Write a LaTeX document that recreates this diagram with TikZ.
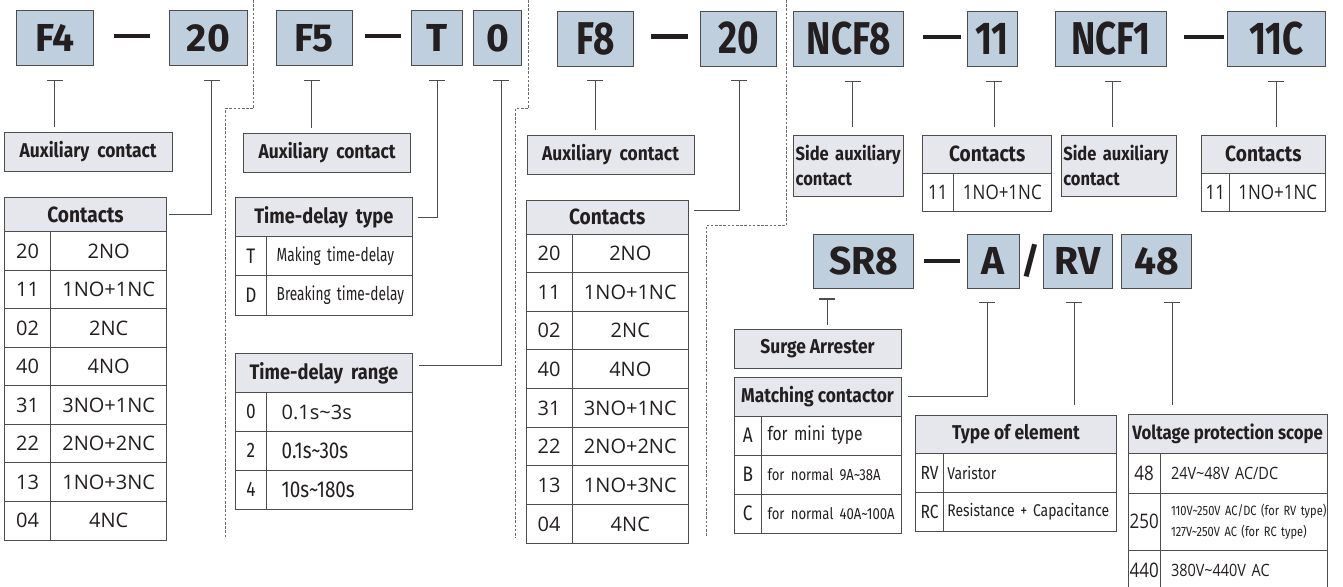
\documentclass[tikz,border=0pt]{standalone}
\usepackage{fontspec}
\setmainfont{Open Sans}
\newfontfamily\codefont{Fira Sans}
\newfontfamily\narrowcodefont[FakeStretch=0.8]{Fira Sans}
\newfontfamily\headfont[FakeStretch=0.87]{Fira Sans}
\newfontfamily\condfont[FakeStretch=0.82]{Fira Sans}
\newfontfamily\slimfont[FakeStretch=0.72]{Fira Sans}
\newfontfamily\narrowfont[FakeStretch=0.85]{Open Sans}
\usepackage{tikz}
\usetikzlibrary{positioning,arrows.meta}
\definecolor{code-blue}{RGB}{192,207,222}
\definecolor{head-gray}{RGB}{230,231,236}
\definecolor{rule-gray}{RGB}{77,77,77}
\definecolor{ink}{RGB}{35,31,32}

\begin{document}
\begin{tikzpicture}[x=1pt, y=-1pt,
		codebox/.style={draw=rule-gray, fill=code-blue, line width=0.8pt, minimum height=55, inner sep=0pt, outer sep=0pt, text=ink, font=\codefont\bfseries\fontsize{39}{40}\selectfont},
		narrowcode/.style={codebox, font=\narrowcodefont\bfseries\fontsize{46}{47}\selectfont},
		sep/.style={draw=ink, line width=4.5pt},
		lead/.style={draw=rule-gray, line width=1pt, arrows={Bar[width=16pt,line width=1.3pt]-}},
		divider/.style={draw=gray!85!black, line width=0.9pt, dash pattern=on 2.6pt off 1.6pt},
		descbox/.style={draw=rule-gray, fill=head-gray, line width=1pt, inner sep=0pt, outer sep=0pt, text=ink, font=\headfont\bfseries\fontsize{20}{25}\selectfont},
		headcell/.style={descbox},
		cell/.style={draw=rule-gray, fill=white, line width=1pt, inner sep=0pt, outer sep=0pt, text=ink},
		widecell/.style={cell, font=\fontsize{20}{24}\selectfont},
		narrowcell/.style={cell, font=\narrowfont\fontsize{20}{24}\selectfont},
		condcell/.style={cell, font=\condfont\fontsize{21}{24}\selectfont},
		leftcell/.style={condcell, align=left, inner xsep=10pt}]
		
		\useasboundingbox (0,0) rectangle (1343,586);
		
		% Draw the code boxes of the first row
		\node[codebox, minimum width=76.5] (f4) at (54.75,38) {F4};
		\node[codebox, minimum width=77.1] (f20a) at (208.35,38) {20};
		\node[codebox, minimum width=75.5] (f5) at (314.25,38) {F5};
		\node[codebox, minimum width=51] (ft) at (437,38) {T};
		\node[codebox, minimum width=48.2] (f0) at (497.6,38) {0};
		\node[narrowcode, minimum width=76.4] (f8) at (595.2,38.5) {F8};
		\node[narrowcode, minimum width=76] (f20b) at (738.7,38.5) {20};
		\node[narrowcode, minimum width=110.2] (ncf8) at (848.7,39) {NCF8};
		\node[narrowcode, minimum width=49.4] (c11) at (992.3,39) {11};
		\node[narrowcode, minimum width=111.5] (ncf1) at (1110.75,39) {NCF1};
		\node[narrowcode, minimum width=97.9] (c11c) at (1276.75,39) {11C};
		
		% Draw the code boxes of the surge arrester
		\node[codebox, minimum width=100, minimum height=54] (sr8) at (863.7,261) {SR8};
		\node[codebox, minimum width=51.3, minimum height=54] (ca) at (993.35,261) {A};
		\node[codebox, minimum width=69.3, minimum height=54] (crv) at (1077.65,261) {RV};
		\node[codebox, minimum width=69.3, minimum height=54] (c48) at (1156.35,261) {48};
		\node[text=ink, font=\codefont\bfseries\fontsize{36}{36}\selectfont] (slash) at (1031,261) {/};
		
		% Dashes between the codes
		\draw[sep, shorten <=20.6pt, shorten >=20pt] ([yshift=2pt]f4.east) -- ([yshift=2pt]f20a.west);
		\draw[sep, shorten <=13pt, shorten >=10.5pt] ([yshift=2pt]f5.east) -- ([yshift=2pt]ft.west);
		\draw[sep, shorten <=17.6pt, shorten >=12.7pt] ([yshift=2pt]f8.east) -- ([yshift=2pt]f20b.west);
		\draw[sep, shorten <=18.9pt, shorten >=6.6pt] ([yshift=2pt]ncf8.east) -- ([yshift=2pt]c11.west);
		\draw[sep, shorten <=17.5pt, shorten >=4.2pt] ([yshift=2pt]ncf1.east) -- ([yshift=2pt]c11c.west);
		\draw[sep, shorten <=9.8pt, shorten >=7.7pt] (sr8.east) -- (ca.west);
		
		% Draw the single description boxes
		\node[descbox, minimum width=167.7, minimum height=39.4, anchor=north west] (aux1) at (4.3,132.3) {Auxiliary\hspace{8pt}contact};
		\node[descbox, minimum width=167.3, minimum height=39.4, anchor=north west] (aux2) at (243.5,133.3) {Auxiliary\hspace{8pt}contact};
		\node[descbox, minimum width=167, minimum height=39, anchor=north west] (aux3) at (527,135) {Auxiliary\hspace{8pt}contact};
		\node[descbox, font=\headfont\bfseries\fontsize{19}{25}\selectfont, minimum width=110.2, minimum height=61.7, anchor=north west, align=left, text width=106] (side1) at (793.6,135) {Side auxiliary\\contact};
		\node[descbox, font=\headfont\bfseries\fontsize{19}{25}\selectfont, minimum width=115.7, minimum height=61.7, anchor=north west, align=left, text width=111] (side2) at (1061,135) {Side auxiliary\\contact};
		\node[descbox, minimum width=167, minimum height=39, anchor=north west] (surge) at (734,329.3) {Surge Arrester};
		
		% Draw the contacts table of F4
		\node[headcell, font=\headfont\bfseries\fontsize{22}{25}\selectfont, minimum width=162.4, minimum height=34.4, anchor=north west] (cah) at (4.3,197.3) {Contacts};
		\foreach \k/\v [count=\i] in {20/2NO, 11/1NO+1NC, 02/2NC, 40/4NO, 31/3NO+1NC, 22/2NO+2NC, 13/1NO+3NC, 04/4NC} {
			\node[widecell, minimum width=46.4, minimum height=38.54, anchor=north west, yshift={-(\i-1)*38.54}] (cak\i) at (cah.south west) {\k};
			\node[widecell, minimum width=116, minimum height=38.54, right=0pt of cak\i] (cav\i) {\v};
		}
		
		% Draw the time-delay tables of F5
		\node[headcell, font=\headfont\bfseries\fontsize{21}{25}\selectfont, minimum width=177.7, minimum height=39.4, anchor=north west] (tth) at (235,197.3) {Time-delay\hspace{8pt}type};
		\foreach \k/\v [count=\i] in {T/Making time-delay, D/Breaking time-delay} {
			\node[condcell, minimum width=31.7, minimum height=39.15, anchor=north west, yshift={-(\i-1)*39.15}] (ttk\i) at (tth.south west) {\k};
			\node[leftcell, font=\slimfont\fontsize{19}{22}\selectfont, text width=126, minimum height=39.15, right=0pt of ttk\i] (ttv\i) {\mbox{\v}};
		}
		\node[headcell, font=\headfont\bfseries\fontsize{21}{25}\selectfont, minimum width=177.7, minimum height=39.2, anchor=north west] (trh) at (235,353.3) {Time-delay\hspace{8pt}range};
		\foreach \k/\v [count=\i] in {0/{\rmfamily\fontsize{20}{24}\selectfont 0.1s\textasciitilde 3s}, 2/0.1s\textasciitilde 30s, 4/10s\textasciitilde 180s} {
			\node[condcell, minimum width=31.7, minimum height=38.9, anchor=north west, yshift={-(\i-1)*38.9}] (trk\i) at (trh.south west) {\k};
			\node[leftcell, font=\condfont\fontsize{23}{26}\selectfont, inner xsep=15pt, text width=116, minimum height=38.9, right=0pt of trk\i] (trv\i) {\mbox{\v}};
		}
		
		% Draw the contacts table of F8
		\node[headcell, font=\headfont\bfseries\fontsize{22}{25}\selectfont, minimum width=162.3, minimum height=33.3, anchor=north west] (cbh) at (526,200.7) {Contacts};
		\foreach \k/\v [count=\i] in {20/2NO, 11/1NO+1NC, 02/2NC, 40/4NO, 31/3NO+1NC, 22/2NO+2NC, 13/1NO+3NC, 04/4NC} {
			\node[widecell, minimum width=46.3, minimum height=38.66, anchor=north west, yshift={-(\i-1)*38.66}] (cbk\i) at (cbh.south west) {\k};
			\node[widecell, minimum width=116, minimum height=38.66, right=0pt of cbk\i] (cbv\i) {\v};
		}
		
		% Draw the small contacts tables of NCF8 and NCF1
		\node[headcell, font=\headfont\bfseries\fontsize{22}{25}\selectfont, minimum width=129, minimum height=38.3, anchor=north west] (c11h) at (922.7,135) {Contacts};
		\node[narrowcell, minimum width=30.3, minimum height=37.7, anchor=north west] (c11k) at (c11h.south west) {11};
		\node[narrowcell, minimum width=98.7, minimum height=37.7, right=0pt of c11k] (c11v) {1NO+1NC};
		\node[headcell, font=\headfont\bfseries\fontsize{22}{25}\selectfont, minimum width=124.7, minimum height=38.3, anchor=north west] (c11ch) at (1201,135) {Contacts};
		\node[narrowcell, minimum width=28.8, minimum height=37.7, anchor=north west] (c11ck) at (c11ch.south west) {11};
		\node[narrowcell, minimum width=95.9, minimum height=37.7, right=0pt of c11ck] (c11cv) {1NO+1NC};
		
		% Draw the tables of the surge arrester
		\node[headcell, minimum width=167, minimum height=38.7, anchor=north west] (mh) at (734,377.3) {Matching contactor};
		\foreach \k/\v [count=\i] in {A/for mini type, B/{\fontsize{16}{20}\selectfont for normal 9A\textasciitilde 38A}, C/{\fontsize{16}{20}\selectfont for normal 40A\textasciitilde 100A}} {
			\node[condcell, minimum width=27.5, minimum height=39.1, anchor=north west, yshift={-(\i-1)*39.1}] (mk\i) at (mh.south west) {\k};
			\node[leftcell, font=\condfont\fontsize{19}{22}\selectfont, inner xsep=6pt, text width=127.5, minimum height=39.1, right=0pt of mk\i] (mv\i) {\mbox{\v}};
		}
		\node[headcell, minimum width=200.7, minimum height=38.3, anchor=north west] (teh) at (915.7,415) {Type of element};
		\foreach \k/\v [count=\i] in {RV/Varistor, RC/Resistance + Capacitance} {
			\node[condcell, font=\condfont\fontsize{19}{22}\selectfont, minimum width=27.6, minimum height=39.2, anchor=north west, yshift={-(\i-1)*39.2}] (tek\i) at (teh.south west) {\k};
			\node[leftcell, font=\condfont\fontsize{17}{22}\selectfont, inner xsep=4pt, text width=165, minimum height=39.2, right=0pt of tek\i] (tev\i) {\mbox{\v}};
		}
		\node[headcell, font=\headfont\bfseries\fontsize{19.3}{25}\selectfont, minimum width=198.7, minimum height=39, anchor=north west] (vh) at (1128.3,414.3) {Voltage protection scope};
		\node[narrowcell, minimum width=31.7, minimum height=40, anchor=north west] (vk1) at (vh.south west) {48};
		\node[leftcell, font=\narrowfont\fontsize{17}{20}\selectfont, inner xsep=11pt, text width=145, minimum height=40, right=0pt of vk1] (vv1) {\mbox{24V\textasciitilde 48V AC/DC}};
		\node[narrowcell, minimum width=31.7, minimum height=56.7, below=0pt of vk1] (vk2) {250};
		\node[leftcell, font=\condfont\fontsize{13.5}{21}\selectfont, inner xsep=11pt, text width=145, minimum height=56.7, right=0pt of vk2] (vv2) {\mbox{110V\textasciitilde 250V AC/DC (for RV type)}\\\mbox{127V\textasciitilde 250V AC (for RC type)}};
		\node[narrowcell, minimum width=31.7, minimum height=40, below=0pt of vk2] (vk3) {440};
		\node[leftcell, font=\narrowfont\fontsize{17}{20}\selectfont, inner xsep=11pt, text width=145, minimum height=40, right=0pt of vk3] (vv3) {\mbox{380V\textasciitilde 440V AC}};
		
		% Tick points below the codes
		\foreach \n/\dx/\dy in {f4/0/14, f20a/3.5/14, f5/-2.6/14, ft/0/14, f0/3.8/14, f8/0/14, f20b/0.3/14, ncf8/4/14, c11/1.7/14, ncf1/2.2/14, c11c/-0.7/14, sr8/-36.7/10.3, ca/-6.3/13.7, crv/-3.2/13.7, c48/15.7/13.7}
			\coordinate (\n-t) at ([xshift=\dx pt, yshift=-\dy pt]\n.south);
		
		% Connect the codes with their descriptions
		\draw[lead, shorten >=5pt] (f4-t) -- (f4-t |- aux1.north);
		\draw[lead, shorten >=2.5pt] (f20a-t) |- (cah.east);
		\draw[lead, shorten >=5pt] (f5-t) -- (f5-t |- aux2.north);
		\draw[lead, shorten >=5pt] (ft-t) |- (tth.east);
		\draw[lead, shorten >=6.5pt] (f0-t) |- ([yshift=7pt]trh.east);
		\draw[lead, shorten >=5pt] (f8-t) -- (f8-t |- aux3.north);
		\draw[lead, shorten >=5.5pt] (f20b-t) |- ([yshift=7pt]cbh.east);
		\draw[lead, shorten >=8pt] (ncf8-t) -- (ncf8-t |- side1.north);
		\draw[lead, shorten >=8pt] (c11-t) -- (c11-t |- c11h.north);
		\draw[lead, shorten >=8pt] (ncf1-t) -- (ncf1-t |- side2.north);
		\draw[lead, shorten >=8pt] (c11c-t) -- (c11c-t |- c11ch.north);
		\draw[lead, shorten >=4pt] (sr8-t) -- (sr8-t |- surge.north);
		\draw[lead, shorten >=6.5pt] (ca-t) |- (mh.east);
		\draw[lead, shorten >=10pt] (crv-t) -- (crv-t |- teh.north);
		\draw[lead, shorten >=9pt] (c48-t) -- (c48-t |- vh.north);
		
		% Dotted separators between the groups
		\draw[divider] (253.8,0) -- (253.8,108.3) -- (225.5,108.3) -- (225.5,538);
		\draw[divider] (528.6,0) -- (528.6,108.3) -- (515.5,108.3) -- (515.5,538);
		\draw[divider] (786,0) -- (786,225.5) -- (706,225.5) -- (706,537);
\end{tikzpicture}
\end{document}
